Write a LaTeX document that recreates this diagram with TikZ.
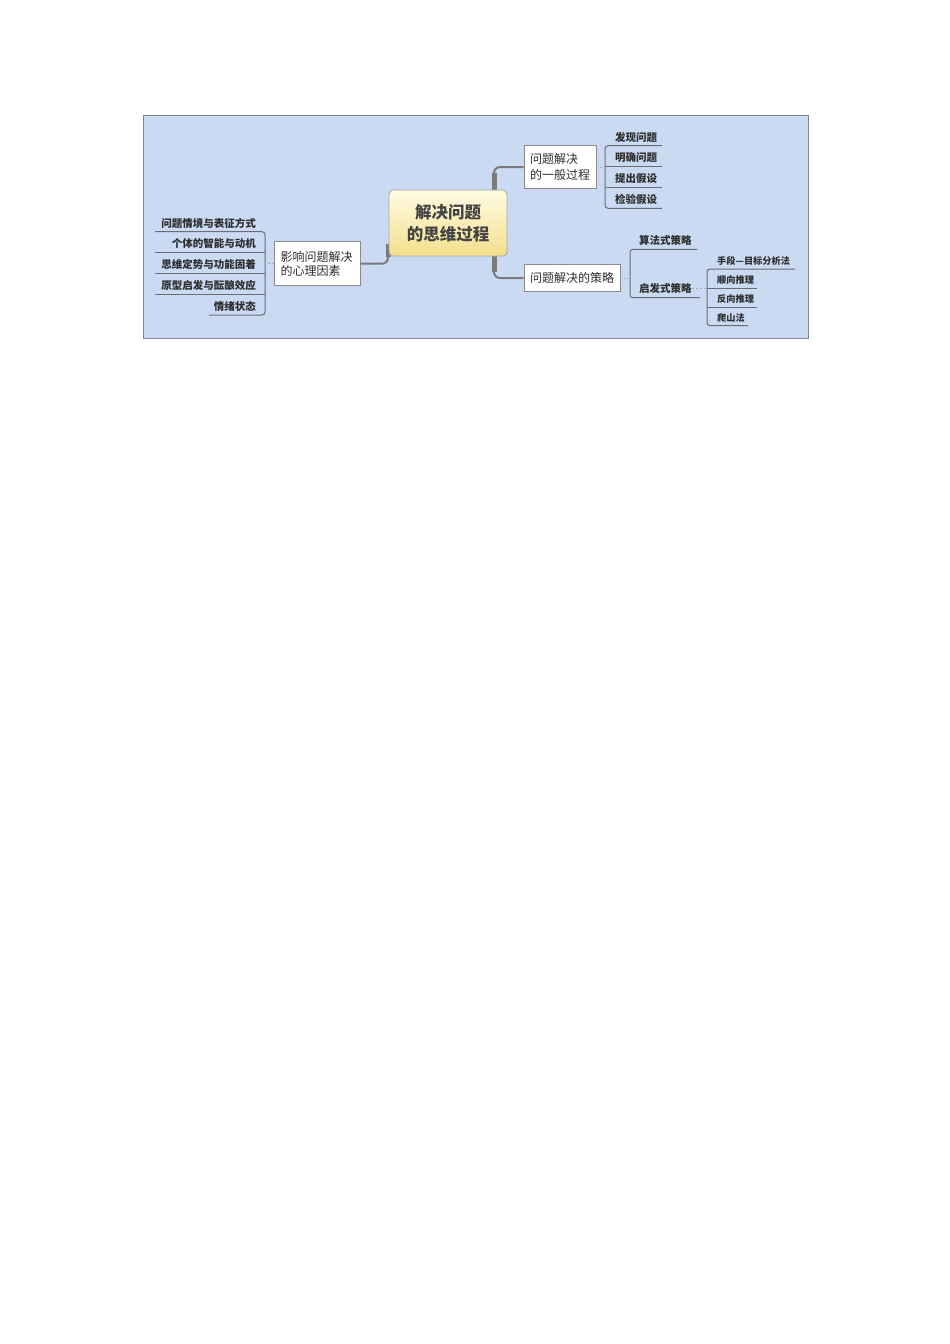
\documentclass[tikz,border=0pt]{standalone}
\usepackage{fontspec}
\setmainfont{Noto Sans CJK SC}
\definecolor{bgblue}{HTML}{C9DAF2}
\definecolor{panelborder}{HTML}{7F8690}
\definecolor{txt}{HTML}{2E2E2E}
\definecolor{roottxt}{HTML}{444444}
\definecolor{rootTop}{HTML}{FFFBE3}
\definecolor{rootBot}{HTML}{F4DF8C}
\definecolor{rootborder}{HTML}{A8A8A8}
\definecolor{boxborder}{HTML}{8C8C8C}
\definecolor{trunkgrey}{HTML}{7A7A7A}
\definecolor{brgrey}{HTML}{6A6E74}
\definecolor{dashgrey}{HTML}{A6AEB8}
\begin{document}
\begin{tikzpicture}[x=1pt,y=-1pt,
  every node/.style={text=txt, inner sep=0pt},
  panel/.style={fill=bgblue, draw=panelborder, line width=0.8pt},
  root/.style={draw=rootborder, line width=0.9pt, rounded corners=4pt,
    top color=rootTop, bottom color=rootBot, minimum width=118pt,
    minimum height=66pt, align=center, text=roottxt,
    font=\fontsize{16.5}{21.6}\selectfont\bfseries},
  topic/.style={draw=boxborder, fill=white, line width=0.8pt, align=left,
    inner xsep=6pt},
  itemtext/.style={font=\fontsize{10.5}{12}\selectfont\bfseries},
  subtext/.style={font=\fontsize{9.2}{11}\selectfont\bfseries},
  trunk/.style={draw=trunkgrey, line width=5pt},
  limb/.style={draw=trunkgrey, line width=2pt, rounded corners=6pt},
  br/.style={draw=brgrey, line width=1pt, rounded corners=3pt},
  dashlink/.style={draw=dashgrey, line width=0.6pt, dash pattern=on 2pt off 2pt}
]
\useasboundingbox (0,0) rectangle (950,1344);
\fill[white] (0,0) rectangle (950,1344);
\draw[panel] (143,115) rectangle (808,338);

% bracket coordinates
\coordinate (lb) at (265,231.7);
\coordinate (gb) at (605,145.7);
\coordinate (sb) at (630,249.3);
\coordinate (hb) at (707,269);

% main connectors (drawn before nodes)
\draw[trunk] (388,244) -- (388,257);
\draw[trunk] (494,198) -- (494,173);
\draw[trunk] (494,248) -- (494,272);

% topic nodes
\node[root] (c) at (448,223) {解决问题\\的思维过程};
\node[topic, text width=74pt, minimum height=44pt,
  font=\fontsize{12}{14}\selectfont] (P) at (317.5,263.7) {影响问题解决\\的心理因素};
\node[topic, text width=60pt, minimum height=42.6pt,
  font=\fontsize{12}{16.7}\selectfont] (G) at (560,167) {问题解决\\的一般过程};
\node[topic, text width=84pt, minimum height=27.4pt,
  font=\fontsize{12}{14}\selectfont] (S) at (572,278) {问题解决的策略};

\draw[limb] (388,250) |- (P.east);
\draw[limb] (494,186) |- (G.west);
\draw[limb] (494,262) |- (S.west);

% left items
\draw[br] (155,231.7) -- (lb) -- (265,315) -- (209,315);
\draw[br] (155,252.5) -- (265,252.5);
\draw[br] (155,273.3) -- (265,273.3);
\draw[br] (155,294.1) -- (265,294.1);
\node[itemtext, anchor=east] (L1) at (256,223.0) {问题情境与表征方式};
\node[itemtext, anchor=east] (L2) at (256,243.8) {个体的智能与动机};
\node[itemtext, anchor=east] (L3) at (256,264.6) {思维定势与功能固着};
\node[itemtext, anchor=east] (L4) at (256,285.4) {原型启发与酝酿效应};
\node[itemtext, anchor=east] (L5) at (256,306.3) {情绪状态};
\draw[dashlink] (P.west) -- (P.west -| lb);

% general process items
\draw[br] (662,145.7) -- (gb) -- (605,208.3) -- (662,208.3);
\draw[br] (605,166.7) -- (662,166.7);
\draw[br] (605,187.7) -- (662,187.7);
\node[itemtext, anchor=west] (G1) at (615,137.0) {发现问题};
\node[itemtext, anchor=west] (G2) at (615,158.0) {明确问题};
\node[itemtext, anchor=west] (G3) at (615,179.0) {提出假设};
\node[itemtext, anchor=west] (G4) at (615,199.6) {检验假设};
\draw[dashlink] (G.east) -- (G.east -| gb);

% strategy items
\draw[br] (697,249.3) -- (sb) -- (630,297.7) -- (700,297.7);
\node[itemtext, anchor=west] (A) at (639,240.3) {算法式策略};
\node[itemtext, anchor=west] (H) at (639,288.6) {启发式策略};
\draw[dashlink] (S.east) -- (S.east -| sb);

% heuristic sub-items
\draw[br] (795,269) -- (hb) -- (707,325.7) -- (748,325.7);
\draw[br] (707,288.3) -- (757,288.3);
\draw[br] (707,307.3) -- (757,307.3);
\node[subtext, anchor=west] (H1) at (717,260.8) {手段—目标分析法};
\node[subtext, anchor=west] (H2) at (717,280.0) {顺向推理};
\node[subtext, anchor=west] (H3) at (717,299.0) {反向推理};
\node[subtext, anchor=west] (H4) at (717,317.6) {爬山法};
\draw[dashlink] (H.east) -- (H.east -| hb);
\end{tikzpicture}
\end{document}
